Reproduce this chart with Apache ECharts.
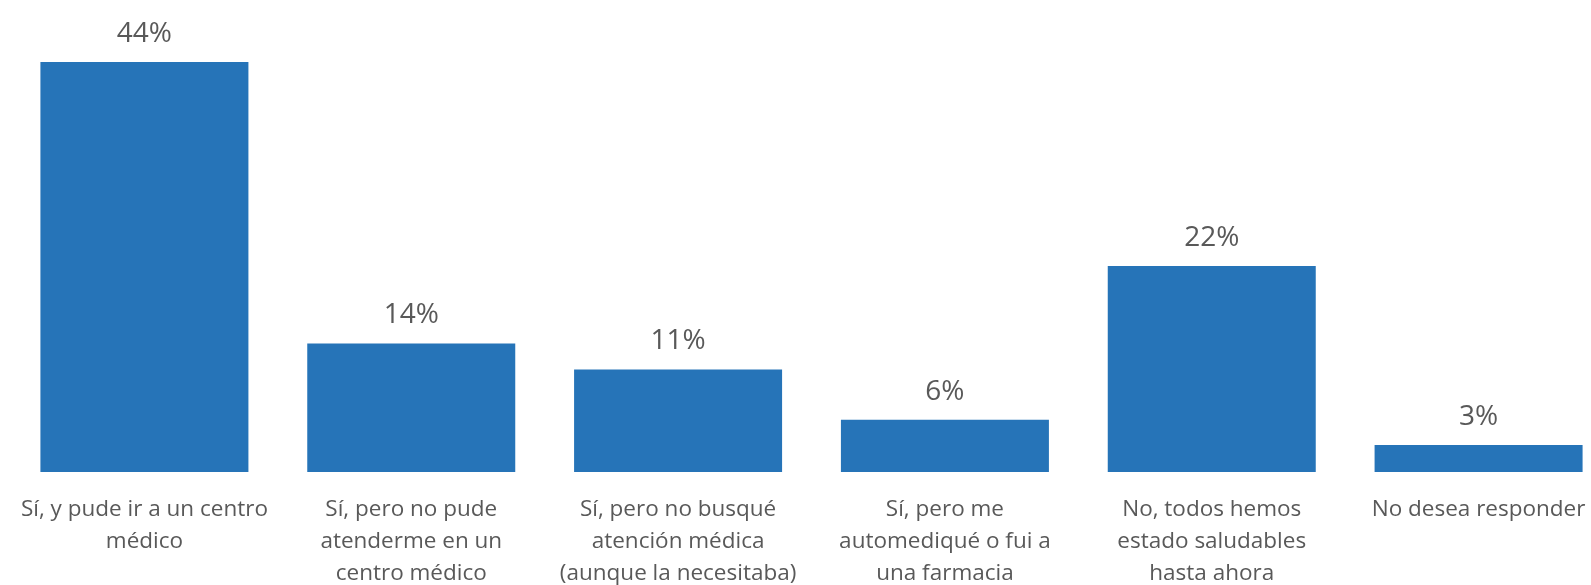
<!DOCTYPE html>
<html>
<head>
<meta charset="utf-8">
<script src="https://cdn.jsdelivr.net/npm/echarts@6/dist/echarts.min.js"></script>
<style>
  html, body { margin: 0; padding: 0; background: #fff; }
  #chart { width: 1591px; height: 585px; }
</style>
</head>
<body>
<div id="chart"></div>
<script>
// respuestas
const categories = [
  'Sí, y pude ir a un centro\nmédico',
  'Sí, pero no pude\natenderme en un\ncentro médico',
  'Sí, pero no busqué\natención médica\n(aunque la necesitaba)',
  'Sí, pero me\nautomediqué o fui a\nuna farmacia',
  'No, todos hemos\nestado saludables\nhasta ahora',
  'No desea responder'
]
// bar heights (labels are rounded)
const percentages = [44, 13.8, 11, 5.6, 22.1, 2.9]

const textColor = '#595959'
const barColor = '#2674B8'
const fontFamily = '"Open Sans", "Noto Sans", sans-serif'

let chart = echarts.init(document.getElementById('chart'))
let option = {
  animation: false,
  textStyle: { fontFamily: fontFamily },
  grid: {
    left: 11,
    width: 1601,
    top: 62,
    height: 410,
    outerBoundsMode: 'none',
    containLabel: false
  },
  xAxis: {
    type: 'category',
    data: categories,
    axisLine: { show: false },
    axisTick: { show: false },
    axisLabel: {
      interval: 0,
      color: textColor,
      fontSize: 22.5,
      lineHeight: 32,
      margin: 22,
      fontFamily: fontFamily
    }
  },
  yAxis: {
    type: 'value',
    min: 0,
    max: 44,
    show: false,
    splitLine: { show: false }
  },
  series: [{
    type: 'bar',
    data: percentages,
    barWidth: 208,
    itemStyle: { color: barColor },
    label: {
      show: true,
      position: 'top',
      distance: 14,
      color: textColor,
      fontSize: 28,
      fontFamily: fontFamily,
      formatter: function (params) {
        return Math.round(params.value) + '%'
      }
    }
  }]
}
chart.setOption(option)
</script>
</body>
</html>
